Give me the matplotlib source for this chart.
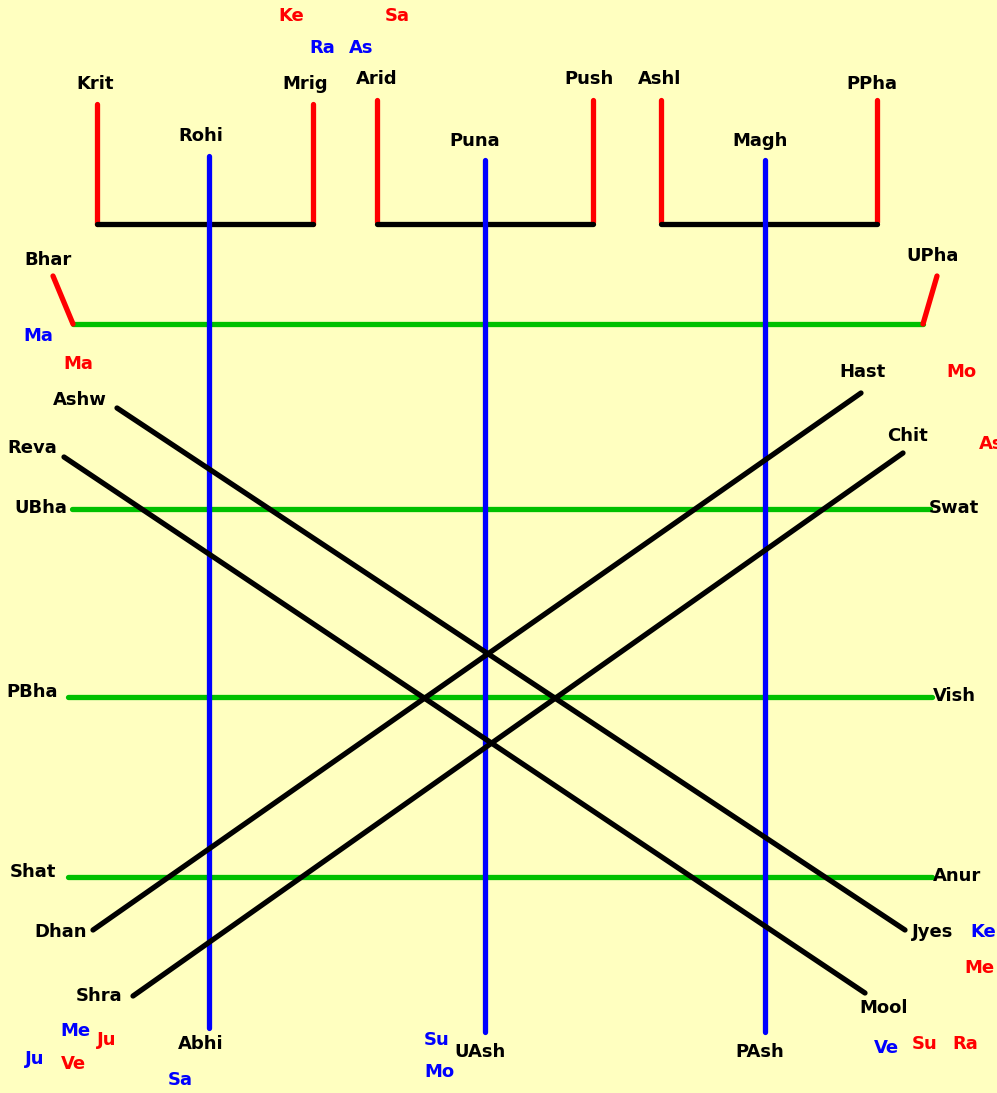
import matplotlib
matplotlib.use("Agg")
import matplotlib.pyplot as plt

# canvas in pixel units (x right, y down)
W, H = 997, 1093
bg = '#FFFFC0'
RED, BLUE, GREEN, BLACK = '#FF0000', '#0000FF', '#00C000', '#000000'

# red posts of the three top brackets
red_x = [97, 313, 377, 593, 661, 877]
red_top = [104, 104, 100, 100, 100, 100]
red_bottom = [224, 224, 222, 222, 222, 222]

# black bars joining the posts
bar_x0 = [97, 377, 661]
bar_x1 = [313, 593, 877]
bar_y = [224, 224, 224]

# blue verticals
blue_x = [209, 485, 765]
blue_top = [156, 160, 160]
blue_bottom = [1028, 1032, 1032]

# green horizontals
green_y = [324, 509, 697, 877]
green_x0 = [73, 72, 68, 68]
green_x1 = [923, 930, 932, 932]

# short red slants at the ends of the first green line
slant_x0 = [53, 937]
slant_y0 = [276, 276]
slant_x1 = [73, 923]
slant_y1 = [324, 324]

# black diagonals
diag_x0 = [117, 64, 861, 903]
diag_y0 = [408, 457, 393, 453]
diag_x1 = [905, 865, 93, 133]
diag_y1 = [930, 993, 930, 996]

# labels
names = ['Krit', 'Mrig', 'Arid', 'Push', 'Ashl', 'PPha', 'Rohi', 'Puna', 'Magh',
         'Bhar', 'UPha', 'Hast', 'Ashw', 'Reva', 'Chit', 'UBha', 'Swat',
         'PBha', 'Vish', 'Shat', 'Anur', 'Dhan', 'Jyes', 'Shra', 'Mool',
         'Abhi', 'UAsh', 'PAsh']
name_x = [95, 305, 377, 589, 660, 872, 201, 475, 760,
          48, 933, 862, 80, 32, 907, 41, 954,
          32, 954, 33, 957, 61, 933, 99, 884,
          201, 480, 760]
name_y = [84, 84, 79, 79, 79, 84, 136, 141, 141,
          260, 256, 372, 400, 448, 436, 508, 508,
          692, 696, 872, 876, 932, 932, 996, 1008,
          1044, 1052, 1052]

planets = ['Ke', 'Sa', 'Ra', 'As', 'Ma', 'Ma', 'Mo', 'As', 'Ke', 'Me',
           'Me', 'Ju', 'Ju', 'Ve', 'Sa', 'Su', 'Mo', 'Ve', 'Su', 'Ra']
planet_x = [291, 397, 322, 361, 38, 78, 961, 991, 983, 979,
            75, 107, 35, 73, 180, 437, 439, 886, 925, 965]
planet_y = [16, 16, 48, 48, 336, 364, 372, 444, 932, 968,
            1031, 1040, 1059, 1064, 1080, 1040, 1072, 1048, 1044, 1044]
planet_c = [RED, RED, BLUE, BLUE, BLUE, RED, RED, RED, BLUE, RED,
            BLUE, RED, BLUE, RED, BLUE, BLUE, BLUE, BLUE, RED, RED]

fig = plt.figure(figsize=(W / 100, H / 100), dpi=100, facecolor=bg)
ax = fig.add_axes([0, 0, 1, 1])
ax.set_facecolor(bg)
ax.set_xlim(0, W)
ax.set_ylim(H, 0)
ax.axis('off')

lw = 3.8
kw = dict(lw=lw, solid_capstyle='round')

for x, t, b in zip(red_x, red_top, red_bottom):
    ax.plot([x, x], [t, b], color=RED, **kw)
for x0, x1, y in zip(bar_x0, bar_x1, bar_y):
    ax.plot([x0, x1], [y, y], color=BLACK, **kw)
for y, x0, x1 in zip(green_y, green_x0, green_x1):
    ax.plot([x0, x1], [y, y], color=GREEN, **kw)
for x0, y0, x1, y1 in zip(slant_x0, slant_y0, slant_x1, slant_y1):
    ax.plot([x0, x1], [y0, y1], color=RED, **kw)
for x, t, b in zip(blue_x, blue_top, blue_bottom):
    ax.plot([x, x], [t, b], color=BLUE, **kw)
for x0, y0, x1, y1 in zip(diag_x0, diag_y0, diag_x1, diag_y1):
    ax.plot([x0, x1], [y0, y1], color=BLACK, **kw)

for s, x, y in zip(names, name_x, name_y):
    ax.text(x, y, s, color=BLACK, fontsize=13, fontweight='bold',
            ha='center', va='center', family='DejaVu Sans')
for s, x, y, c in zip(planets, planet_x, planet_y, planet_c):
    ax.text(x, y, s, color=c, fontsize=13, fontweight='bold',
            ha='center', va='center', family='DejaVu Sans')

fig.savefig('out.png', dpi=100, facecolor=bg)
